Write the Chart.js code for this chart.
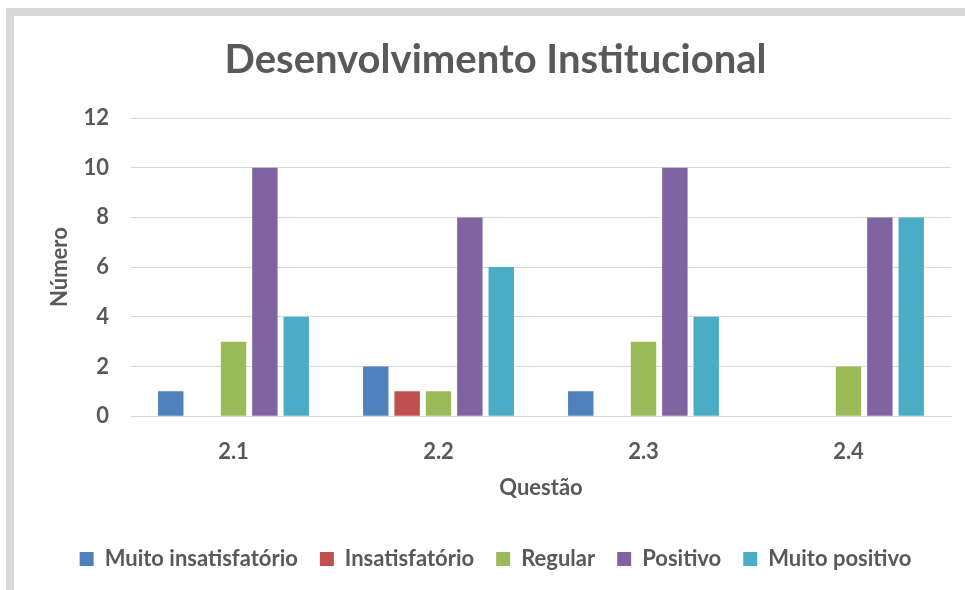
<!DOCTYPE html>
<html>
<head>
<meta charset="utf-8">
<script src="https://cdn.jsdelivr.net/npm/chart.js@4.4.1/dist/chart.umd.min.js"></script>
<style>
    html, body { margin: 0; padding: 0; background: #fff; }
    #wrap { position: relative; width: 965px; height: 590px; overflow: hidden; }
    #frame {
        position: absolute; left: 6px; top: 8px; width: 1000px; height: 700px;
        border-left: 8px solid #d9d9d9; border-top: 8px solid #d9d9d9;
    }
    #chart { position: absolute; left: 0; top: 0; }
</style>
</head>
<body>
<div id="wrap">
    <div id="frame"></div>
    <canvas id="chart" width="965" height="590"></canvas>
</div>
<script>
// Data
const questoes = ['2.1', '2.2', '2.3', '2.4'];
const muitoInsatisfatorio = [1, 2, 1, 0];
const insatisfatorio = [0, 1, 0, 0];
const regular = [3, 1, 3, 2];
const positivo = [10, 8, 10, 8];
const muitoPositivo = [4, 6, 4, 8];
const yTicks = [0, 2, 4, 6, 8, 10, 12];

const textColor = '#595959';
const gridColor = '#d9d9d9';
const fontFamily = 'Lato, "Open Sans", sans-serif';
const labelFont = { family: fontFamily, size: 22, weight: 'bold' };

function makeSet(label, data, color) {
    return {
        label: label,
        data: data,
        backgroundColor: color,
        borderWidth: 0,
        categoryPercentage: 0.765,
        barPercentage: 0.81
    };
}

const ctx = document.getElementById('chart').getContext('2d');

new Chart(ctx, {
    type: 'bar',
    data: {
        labels: questoes,
        datasets: [
            makeSet('Muito insatisfatório', muitoInsatisfatorio, '#4F81BD'),
            makeSet('Insatisfatório', insatisfatorio, '#C0504D'),
            makeSet('Regular', regular, '#9BBB59'),
            makeSet('Positivo', positivo, '#8064A2'),
            makeSet('Muito positivo', muitoPositivo, '#4BACC6')
        ]
    },
    options: {
        responsive: false,
        animation: false,
        layout: {
            padding: { left: 40, right: 14, top: 20, bottom: 10 }
        },
        plugins: {
            title: {
                display: true,
                text: 'Desenvolvimento Institucional',
                color: textColor,
                font: { family: fontFamily, size: 40, weight: 'bold' },
                padding: { top: 15.6, bottom: 34.4 }
            },
            legend: {
                position: 'bottom',
                labels: {
                    color: textColor,
                    font: labelFont,
                    boxWidth: 14,
                    boxHeight: 14,
                    padding: 22
                }
            },
            tooltip: { enabled: false }
        },
        scales: {
            x: {
                grid: { display: false, drawTicks: false },
                border: { color: gridColor },
                ticks: {
                    color: textColor,
                    font: labelFont,
                    padding: 23
                },
                title: {
                    display: true,
                    text: 'Questão',
                    color: textColor,
                    font: labelFont,
                    padding: { top: -14, bottom: 25 }
                }
            },
            y: {
                min: 0,
                max: 12,
                afterBuildTicks: (scale) => {
                    scale.ticks = yTicks.map(v => ({ value: v }));
                },
                afterFit: (scale) => {
                    scale.width = 91;
                },
                grid: { color: gridColor, drawTicks: false },
                border: { display: false },
                ticks: {
                    color: textColor,
                    font: labelFont,
                    padding: 22
                },
                title: {
                    display: true,
                    text: 'Número',
                    color: textColor,
                    font: labelFont,
                    padding: { top: 6.8, bottom: 0 }
                }
            }
        }
    }
});
</script>
</body>
</html>
